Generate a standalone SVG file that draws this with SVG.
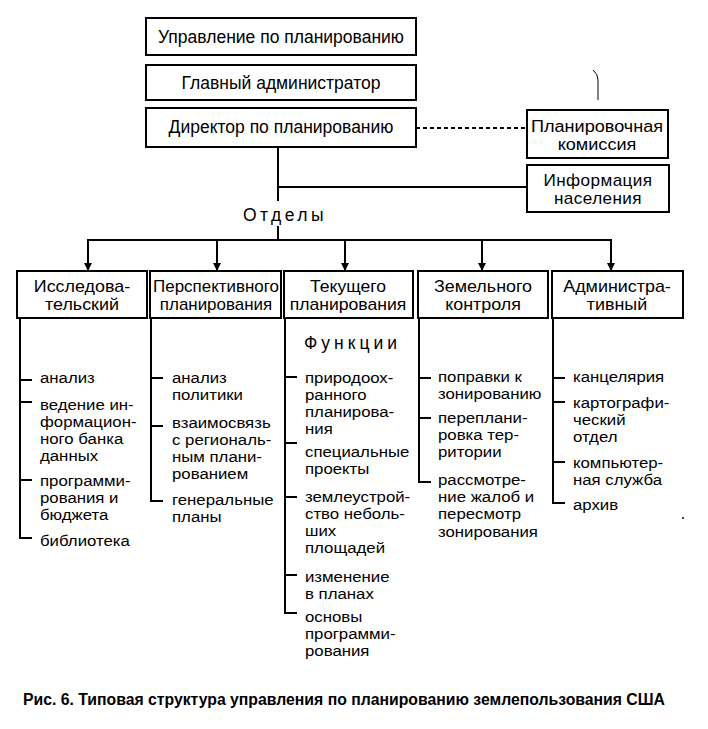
<svg xmlns="http://www.w3.org/2000/svg" width="708" height="729" viewBox="0 0 708 729">
<style>
  .box { fill: #fff; stroke: #000; stroke-width: 2; }
  .ln { stroke: #000; stroke-width: 2; fill: none; }
  text { font-family: "Liberation Sans", Arial, sans-serif; fill: #000; }
  .t { font-size: 17.5px; }
  .b { font-size: 16px; }
  .c { text-anchor: middle; }
  .it { font-size: 15px; }
  .cap { font-size: 16px; font-weight: bold; }
</style>
<defs>
  <marker id="arr" viewBox="0 0 10 10" refX="10" refY="5" markerWidth="8" markerHeight="10" markerUnits="userSpaceOnUse" orient="auto">
    <path d="M0,0 L10,5 L0,10 Z" fill="#000"/>
  </marker>
</defs>
<rect width="708" height="729" fill="#fff"/>

<g id="connectors">
  <line class="ln" x1="278" y1="147" x2="278" y2="201"/>
  <line class="ln" x1="278" y1="187" x2="527" y2="187"/>
  <line class="ln" x1="416" y1="128" x2="527" y2="128" stroke-dasharray="4,3"/>
  <line class="ln" x1="278" y1="226" x2="278" y2="240"/>
  <line class="ln" x1="87" y1="240" x2="612" y2="240"/>
  <line class="ln" x1="88" y1="240" x2="88" y2="271" marker-end="url(#arr)"/>
  <line class="ln" x1="217" y1="240" x2="217" y2="271" marker-end="url(#arr)"/>
  <line class="ln" x1="345" y1="240" x2="345" y2="271" marker-end="url(#arr)"/>
  <line class="ln" x1="482" y1="240" x2="482" y2="271" marker-end="url(#arr)"/>
  <line class="ln" x1="611" y1="240" x2="611" y2="271" marker-end="url(#arr)"/>
  <path class="ln" d="M20,318 V538 H32 M20,380 H32 M20,402 H32 M20,480 H32"/>
  <path class="ln" d="M151,318 V501 H163 M151,378 H163 M151,426 H163"/>
  <path class="ln" d="M285,318 V613 H297 M285,377 H297 M285,443 H297 M285,497 H297 M285,575 H297"/>
  <path class="ln" d="M419,318 V482 H431 M419,378 H431 M419,418 H431"/>
  <path class="ln" d="M553,318 V503 H565 M553,378 H565 M553,402 H565 M553,462 H565"/>
</g>

<g id="n-upravlenie">
  <rect class="box" x="146" y="18" width="270" height="37"/>
  <text class="t c" x="281" y="43">Управление по планированию</text>
</g>
<g id="n-glavny">
  <rect class="box" x="146" y="65" width="270" height="35"/>
  <text class="t c" x="281" y="89">Главный администратор</text>
</g>
<g id="n-direktor">
  <rect class="box" x="146" y="108" width="270" height="39"/>
  <text class="t c" x="281" y="133">Директор по планированию</text>
</g>
<g id="n-komissiya">
  <rect class="box" x="527" y="110" width="141" height="48"/>
  <text class="b c" transform="translate(597,0) scale(1.13,1)"><tspan x="0" y="132">Планировочная</tspan><tspan x="0" y="150">комиссия</tspan></text>
</g>
<g id="n-informatsiya">
  <rect class="box" x="527" y="165" width="142" height="47"/>
  <text class="b c" transform="translate(598,0) scale(1.07,1)" letter-spacing="0.4"><tspan x="0" y="186">Информация</tspan><tspan x="0" y="204">населения</tspan></text>
</g>

<text class="t c" x="285" y="221" letter-spacing="3.5">Отделы</text>

<g id="n-issled">
  <rect class="box" x="17" y="271" width="130" height="47"/>
  <text class="b c" transform="translate(82,0) scale(1.12,1)"><tspan x="0" y="292">Исследова-</tspan><tspan x="0" y="310">тельский</tspan></text>
</g>
<g id="n-perspekt">
  <rect class="box" x="150" y="271" width="131" height="47"/>
  <text class="b c" transform="translate(216,0) scale(1.06,1)"><tspan x="0" y="292">Перспективного</tspan><tspan x="0" y="310">планирования</tspan></text>
</g>
<g id="n-tekusch">
  <rect class="box" x="284" y="271" width="129" height="47"/>
  <text class="b c" transform="translate(348,0) scale(1.1,1)"><tspan x="0" y="292">Текущего</tspan><tspan x="0" y="310">планирования</tspan></text>
</g>
<g id="n-zemeln">
  <rect class="box" x="418" y="271" width="130" height="47"/>
  <text class="b c" transform="translate(483,0) scale(1.12,1)"><tspan x="0" y="292">Земельного</tspan><tspan x="0" y="310">контроля</tspan></text>
</g>
<g id="n-admin">
  <rect class="box" x="552" y="271" width="131" height="47"/>
  <text class="b c" transform="translate(617,0) scale(1.12,1)"><tspan x="0" y="292">Администра-</tspan><tspan x="0" y="310">тивный</tspan></text>
</g>

<g id="col1" transform="translate(40,0) scale(1.12,1)">
  <text class="it" x="0" y="383">анализ</text>
  <text class="it"><tspan x="0" y="410">ведение ин-</tspan><tspan x="0" y="427">формацион-</tspan><tspan x="0" y="444">ного банка</tspan><tspan x="0" y="461">данных</tspan></text>
  <text class="it"><tspan x="0" y="486">программи-</tspan><tspan x="0" y="503">рования и</tspan><tspan x="0" y="520">бюджета</tspan></text>
  <text class="it" x="0" y="546">библиотека</text>
</g>
<g id="col2" transform="translate(172,0) scale(1.12,1)">
  <text class="it"><tspan x="0" y="383">анализ</tspan><tspan x="0" y="400">политики</tspan></text>
  <text class="it"><tspan x="0" y="428">взаимосвязь</tspan><tspan x="0" y="445">с региональ-</tspan><tspan x="0" y="462">ным плани-</tspan><tspan x="0" y="479">рованием</tspan></text>
  <text class="it"><tspan x="0" y="505">генеральные</tspan><tspan x="0" y="522">планы</tspan></text>
</g>
<g id="col3">
  <text class="t" x="304" y="349" letter-spacing="4">Функции</text>
  <g transform="translate(305,0) scale(1.12,1)">
    <text class="it"><tspan x="0" y="383">природоох-</tspan><tspan x="0" y="400">ранного</tspan><tspan x="0" y="417">планирова-</tspan><tspan x="0" y="434">ния</tspan></text>
    <text class="it"><tspan x="0" y="457">специальные</tspan><tspan x="0" y="474">проекты</tspan></text>
    <text class="it"><tspan x="0" y="502">землеустрой-</tspan><tspan x="0" y="519">ство неболь-</tspan><tspan x="0" y="536">ших</tspan><tspan x="0" y="553">площадей</tspan></text>
    <text class="it"><tspan x="0" y="582">изменение</tspan><tspan x="0" y="599">в планах</tspan></text>
    <text class="it"><tspan x="0" y="622">основы</tspan><tspan x="0" y="639">программи-</tspan><tspan x="0" y="656">рования</tspan></text>
  </g>
</g>
<g id="col4" transform="translate(438,0) scale(1.12,1)">
  <text class="it"><tspan x="0" y="382">поправки к</tspan><tspan x="0" y="399">зонированию</tspan></text>
  <text class="it"><tspan x="0" y="423">переплани-</tspan><tspan x="0" y="440">ровка тер-</tspan><tspan x="0" y="457">ритории</tspan></text>
  <text class="it"><tspan x="0" y="485">рассмотре-</tspan><tspan x="0" y="502">ние жалоб и</tspan><tspan x="0" y="519">пересмотр</tspan><tspan x="0" y="537">зонирования</tspan></text>
</g>
<g id="col5" transform="translate(573,0) scale(1.12,1)">
  <text class="it" x="0" y="382">канцелярия</text>
  <text class="it"><tspan x="0" y="408">картографи-</tspan><tspan x="0" y="425">ческий</tspan><tspan x="0" y="442">отдел</tspan></text>
  <text class="it"><tspan x="0" y="468">компьютер-</tspan><tspan x="0" y="485">ная служба</tspan></text>
  <text class="it" x="0" y="510">архив</text>
</g>

<path d="M593,70 Q598,74 598,80 L598,100" stroke="#000" stroke-width="1" fill="none"/>
<circle cx="683" cy="518" r="1" fill="#000"/>

<text class="cap" x="23" y="705" textLength="642" lengthAdjust="spacingAndGlyphs">Рис. 6. Типовая структура управления по планированию землепользования США</text>
</svg>
